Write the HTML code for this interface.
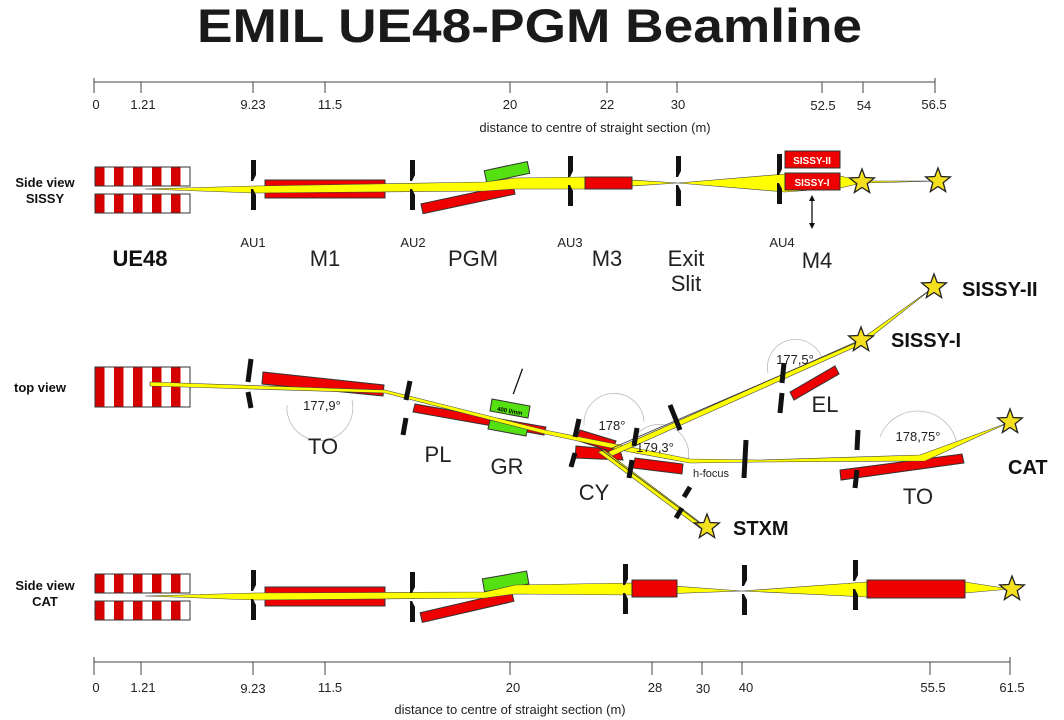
<!DOCTYPE html>
<html><head><meta charset="utf-8"><style>
html,body{margin:0;padding:0;background:#fff;}
svg{display:block;font-family:"Liberation Sans",Arial,sans-serif;}
</style></head><body>
<svg width="1064" height="720" viewBox="0 0 1064 720" xmlns="http://www.w3.org/2000/svg">
<defs>
<pattern id="und" patternUnits="userSpaceOnUse" x="95" y="0" width="19" height="20">
<rect x="0" y="0" width="9.5" height="20" fill="#d40000"/>
<rect x="9.5" y="0" width="9.5" height="20" fill="#fff"/>
</pattern>
<polygon id="star" points="0,-13 3.23,-4.45 12.36,-4.02 5.23,1.7 7.64,10.52 0,5.5 -7.64,10.52 -5.23,1.7 -12.36,-4.02 -3.23,-4.45" fill="#f5e020" stroke="#222" stroke-width="1.3"/>
<g id="ap"><polygon points="-3,-25 2,-25 2,-10 -1,-4 -3,-4" fill="#111"/><polygon points="-3,25 2,25 2,10 -1,4 -3,4" fill="#111"/></g>
</defs>
<text x="197" y="42" font-size="47" font-weight="bold" fill="#1a1a1a" textLength="665" lengthAdjust="spacingAndGlyphs">EMIL UE48-PGM Beamline</text>

<!-- top axis -->
<g stroke="#444" stroke-width="1" fill="none">
<line x1="94" y1="82" x2="935" y2="82"/>
<line x1="94" y1="78" x2="94" y2="93"/><line x1="141" y1="82" x2="141" y2="93"/><line x1="253" y1="82" x2="253" y2="93"/><line x1="325" y1="82" x2="325" y2="93"/><line x1="510" y1="82" x2="510" y2="93"/><line x1="607" y1="82" x2="607" y2="93"/><line x1="677" y1="82" x2="677" y2="93"/><line x1="822" y1="82" x2="822" y2="93"/><line x1="863" y1="82" x2="863" y2="93"/><line x1="935" y1="78" x2="935" y2="93"/>
</g>
<g font-size="13" fill="#222" text-anchor="middle">
<text x="96" y="109">0</text><text x="143" y="109">1.21</text><text x="253" y="109">9.23</text><text x="330" y="109">11.5</text><text x="510" y="109">20</text><text x="607" y="109">22</text><text x="678" y="109">30</text><text x="823" y="110">52.5</text><text x="864" y="110">54</text><text x="934" y="109">56.5</text>
<text x="595" y="132">distance to centre of straight section (m)</text>
</g>

<!-- bottom axis -->
<g stroke="#444" stroke-width="1" fill="none">
<line x1="94" y1="662" x2="1010" y2="662"/>
<line x1="94" y1="657" x2="94" y2="675"/><line x1="141" y1="662" x2="141" y2="675"/><line x1="253" y1="662" x2="253" y2="675"/><line x1="325" y1="662" x2="325" y2="675"/><line x1="510" y1="662" x2="510" y2="675"/><line x1="652" y1="662" x2="652" y2="675"/><line x1="702" y1="662" x2="702" y2="675"/><line x1="742" y1="662" x2="742" y2="675"/><line x1="930" y1="662" x2="930" y2="675"/><line x1="1010" y1="657" x2="1010" y2="675"/>
</g>
<g font-size="13" fill="#222" text-anchor="middle">
<text x="96" y="692">0</text><text x="143" y="692">1.21</text><text x="253" y="693">9.23</text><text x="330" y="692">11.5</text><text x="513" y="692">20</text><text x="655" y="692">28</text><text x="703" y="693">30</text><text x="746" y="692">40</text><text x="933" y="692">55.5</text><text x="1012" y="692">61.5</text>
<text x="510" y="714">distance to centre of straight section (m)</text>
</g>

<!-- ===== Side view SISSY ===== -->
<g font-size="13" font-weight="bold" fill="#111" text-anchor="middle"><text x="45" y="187">Side view</text><text x="45" y="203">SISSY</text></g>
<rect x="95" y="167" width="95" height="19" fill="url(#und)" stroke="#333"/>
<rect x="95" y="194" width="95" height="19" fill="url(#und)" stroke="#333"/>
<rect x="265" y="180" width="120" height="18" fill="#e00" stroke="#333"/>
<rect x="485" y="166" width="44" height="12" fill="#55e011" stroke="#333" transform="rotate(-12 507 172)"/>
<rect x="421" y="194" width="94" height="10" fill="#e00" stroke="#333" transform="rotate(-12 468 199)"/>
<polygon points="145,189 255,186 485,182 515,178 585,177 678,183 785,174 840,176 862,181 938,181 862,183 840,188 785,192 678,183 585,189 515,189 485,191 255,193" fill="#ffff00" stroke="#444" stroke-width="0.6"/>
<rect x="585" y="177" width="47" height="12" fill="#e00" stroke="#333"/>
<rect x="785" y="151" width="55" height="17" fill="#e00" stroke="#333"/>
<rect x="785" y="173" width="55" height="17" fill="#e00" stroke="#333"/>
<g font-size="10" font-weight="bold" fill="#fff" text-anchor="middle"><text x="812" y="164">SISSY-II</text><text x="812" y="186">SISSY-I</text></g>
<use href="#ap" x="254" y="185"/><use href="#ap" x="413" y="185"/><use href="#ap" x="571" y="181"/><use href="#ap" x="679" y="181"/><use href="#ap" x="780" y="179"/>
<use href="#star" x="862" y="182"/><use href="#star" x="938" y="181"/>
<g stroke="#111" stroke-width="1.3"><line x1="812" y1="198" x2="812" y2="226"/></g>
<polygon points="812,195 809,201 815,201" fill="#111"/><polygon points="812,229 809,223 815,223" fill="#111"/>
<text x="140" y="266" font-size="22" font-weight="bold" text-anchor="middle" fill="#111">UE48</text>
<g font-size="13" fill="#222" text-anchor="middle"><text x="253" y="247">AU1</text><text x="413" y="247">AU2</text><text x="570" y="247">AU3</text><text x="782" y="247">AU4</text></g>
<g font-size="22" fill="#222" text-anchor="middle"><text x="325" y="266">M1</text><text x="473" y="266">PGM</text><text x="607" y="266">M3</text><text x="686" y="266">Exit</text><text x="686" y="291">Slit</text><text x="817" y="268">M4</text></g>

<!-- ===== top view ===== -->
<text x="40" y="392" font-size="13" font-weight="bold" text-anchor="middle" fill="#111">top view</text>
<rect x="95" y="367" width="95" height="40" fill="url(#und)" stroke="#333"/>
<g fill="none" stroke="#bbb" stroke-width="0.8">
<path d="M287,405 A33,33 0 1 0 352,400"/>
<path d="M584,425 A30,30 0 1 1 644,422"/>
<path d="M630,448 A28,28 0 0 1 688,460"/>
<path d="M768,373 A28,28 0 1 1 823,362"/>
<path d="M880,437 A40,40 0 0 1 957,445"/>
</g>
<polygon points="263,372 384,385 383,396 262,384" fill="#e00" stroke="#333"/>
<polygon points="415,404 546,427 544,435 413,412" fill="#e00" stroke="#333"/>
<polygon points="576,446 620,450 623,460 575,458" fill="#e00" stroke="#333"/>
<polygon points="580,430 616,441 612,452 576,440" fill="#e00" stroke="#333"/>
<polygon points="635,458 683,464 682,474 633,468" fill="#e00" stroke="#333"/>
<polygon points="790,392 835,366 839,374 794,400" fill="#e00" stroke="#333"/>
<polygon points="840,470 962,454 964,463 841,480" fill="#e00" stroke="#333"/>
<polygon points="492,399 530,406 528,418 490,411" fill="#55e011" stroke="#333"/>
<polygon points="490,420 528,427 526,436 488,429" fill="#55e011" stroke="#333"/>
<text x="510" y="413" font-size="6" font-weight="bold" text-anchor="middle" transform="rotate(10 510 410)">400 l/mm</text>
<!-- beams -->
<polygon points="150,382 385,390 545,430 630,447 690,459 760,460 920,455 1010,422 925,461 760,462 690,463 630,452 545,434 385,393 150,386" fill="#ffff00" stroke="#444" stroke-width="0.6"/>
<polygon points="608,452 860,340 934,287 862,344 612,456" fill="#ffff00" stroke="#444" stroke-width="0.6"/>
<polygon points="604,450 705,526 700,528 598,452" fill="#ffff00" stroke="#444" stroke-width="0.6"/>
<line x1="596" y1="446" x2="705" y2="527" stroke="#333" stroke-width="0.8"/>
<line x1="610" y1="449" x2="860" y2="341" stroke="#333" stroke-width="0.8"/>
<!-- apertures top view -->
<g stroke="#111" stroke-width="5">
<line x1="251" y1="359" x2="248" y2="382"/><line x1="248" y1="392" x2="251" y2="408"/>
<line x1="410" y1="381" x2="406" y2="400"/><line x1="406" y1="418" x2="403" y2="435"/>
<line x1="579" y1="419" x2="575" y2="437"/><line x1="575" y1="453" x2="571" y2="467"/>
<line x1="637" y1="428" x2="634" y2="446"/><line x1="632" y1="460" x2="629" y2="478"/>
<line x1="670" y1="405" x2="680" y2="430"/>
<line x1="746" y1="440" x2="744" y2="478"/>
<line x1="784" y1="363" x2="782" y2="383"/><line x1="782" y1="393" x2="780" y2="413"/>
<line x1="858" y1="430" x2="857" y2="450"/><line x1="857" y1="470" x2="855" y2="488"/>
<line x1="690" y1="487" x2="684" y2="497"/><line x1="682" y1="508" x2="676" y2="518"/>
</g>
<line x1="518" y1="368" x2="518" y2="395" stroke="#111" stroke-width="1.3" transform="rotate(20 518 381)"/>
<use href="#star" x="707" y="527"/><use href="#star" x="861" y="340"/><use href="#star" x="934" y="287"/><use href="#star" x="1010" y="422"/>
<g font-size="13" fill="#222" text-anchor="middle">
<text x="322" y="410">177,9°</text><text x="612" y="430">178°</text><text x="655" y="452">179,3°</text><text x="795" y="364">177,5°</text><text x="918" y="441">178,75°</text>
<text x="711" y="477" font-size="11">h-focus</text>
</g>
<g font-size="22" fill="#222" text-anchor="middle"><text x="323" y="454">TO</text><text x="438" y="462">PL</text><text x="507" y="474">GR</text><text x="594" y="500">CY</text><text x="825" y="412">EL</text><text x="918" y="504">TO</text></g>
<g font-size="20" font-weight="bold" fill="#111"><text x="733" y="535">STXM</text><text x="891" y="347">SISSY-I</text><text x="962" y="296">SISSY-II</text><text x="1008" y="474">CAT</text></g>

<!-- ===== Side view CAT ===== -->
<g font-size="13" font-weight="bold" fill="#111" text-anchor="middle"><text x="45" y="590">Side view</text><text x="45" y="606">CAT</text></g>
<rect x="95" y="574" width="95" height="19" fill="url(#und)" stroke="#333"/>
<rect x="95" y="601" width="95" height="19" fill="url(#und)" stroke="#333"/>
<rect x="265" y="587" width="120" height="19" fill="#e00" stroke="#333"/>
<rect x="483" y="575" width="45" height="13" fill="#55e011" stroke="#333" transform="rotate(-10 505 581)"/>
<rect x="420" y="602" width="94" height="10" fill="#e00" stroke="#333" transform="rotate(-13 467 607)"/>
<polygon points="145,596 255,593 485,592 515,585 632,583 742,591 867,582 965,582 1010,589 965,593 867,597 742,591 632,595 515,594 485,598 255,600" fill="#ffff00" stroke="#444" stroke-width="0.6"/>
<rect x="632" y="580" width="45" height="17" fill="#e00" stroke="#333"/>
<rect x="867" y="580" width="98" height="18" fill="#e00" stroke="#333"/>
<use href="#ap" x="254" y="595"/><use href="#ap" x="413" y="597"/><use href="#ap" x="626" y="589"/><use href="#ap" x="745" y="590"/><use href="#ap" x="856" y="585"/>
<use href="#star" x="1012" y="589"/>
</svg>
</body></html>
